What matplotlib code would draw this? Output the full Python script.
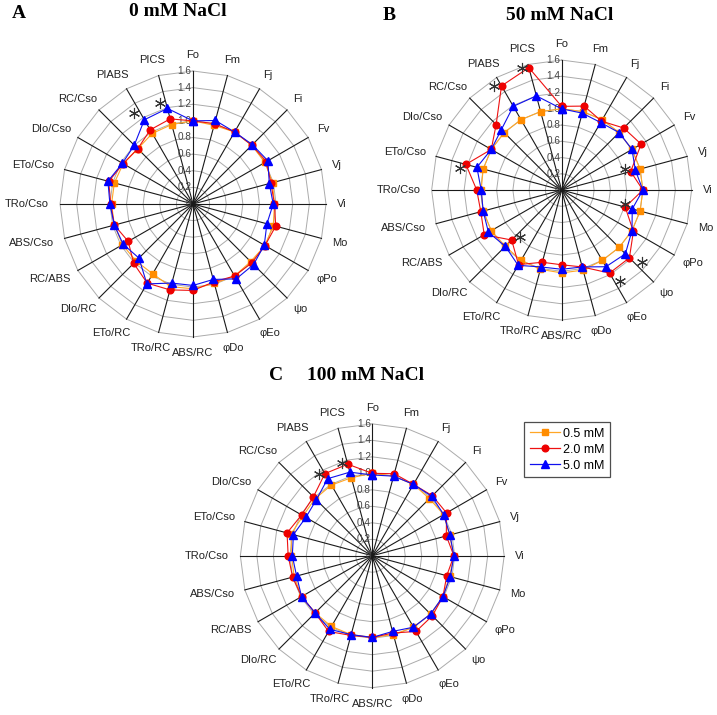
import numpy as np
import matplotlib
matplotlib.use("Agg")
import matplotlib.pyplot as plt
from matplotlib.lines import Line2D

categories = ["Fo", "Fm", "Fj", "Fi", "Fv", "Vj", "Vi", "Mo", "φPo", "ψo", "φEo", "φDo",
              "ABS/RC", "TRo/RC", "ETo/RC", "DIo/RC", "RC/ABS", "ABS/Cso", "TRo/Cso",
              "ETo/Cso", "DIo/Cso", "RC/Cso", "PIABS", "PICS"]
series_names = ["0.5 mM", "2.0 mM", "5.0 mM"]

# Panel A: 0 mM NaCl
a_05 = [1.00, 0.98, 1.00, 1.00, 1.00, 0.99, 0.98, 1.00, 1.00, 0.98, 1.00, 0.99,
        1.02, 1.03, 0.97, 0.97, 0.98, 0.98, 0.98, 0.98, 0.97, 0.94, 0.98, 0.99]
a_20 = [1.00, 1.00, 1.00, 1.00, 1.02, 0.97, 0.98, 1.03, 1.00, 1.00, 1.00, 0.97,
        1.04, 1.07, 1.10, 1.01, 0.90, 0.98, 0.99, 1.05, 0.97, 0.94, 1.03, 1.06]
a_50 = [1.00, 1.04, 1.00, 1.01, 1.04, 0.95, 0.965, 0.92, 0.99, 1.03, 1.04, 0.94,
        0.98, 0.985, 1.11, 0.92, 0.97, 0.98, 1.00, 1.06, 0.98, 1.00, 1.17, 1.19]

# Panel B: 50 mM NaCl
b_05 = [1.00, 1.00, 1.00, 1.00, 1.00, 1.00, 1.00, 1.00, 1.00, 1.00, 1.00, 1.02,
        1.02, 1.01, 1.00, 0.98, 1.00, 1.00, 0.99, 1.00, 1.00, 1.00, 1.00, 1.00]
b_20 = [1.03, 1.07, 0.98, 1.08, 1.13, 0.88, 1.00, 0.81, 1.02, 1.18, 1.18, 0.98,
        0.92, 0.92, 1.06, 0.87, 1.10, 1.03, 1.045, 1.22, 1.00, 1.14, 1.48, 1.56]
b_50 = [1.00, 0.98, 0.96, 1.00, 1.00, 0.94, 1.00, 0.90, 1.00, 1.11, 1.09, 0.98,
        0.975, 0.98, 1.07, 0.98, 1.04, 1.00, 0.99, 1.08, 1.00, 1.05, 1.19, 1.20]

# Panel C: 100 mM NaCl
c_05 = [1.00, 1.00, 1.00, 0.98, 1.00, 0.97, 0.99, 0.97, 0.99, 1.00, 1.00, 0.99,
        0.99, 0.99, 0.99, 0.98, 0.99, 0.98, 0.98, 1.02, 0.97, 0.98, 0.99, 0.98]
c_20 = [1.00, 1.03, 1.00, 1.03, 1.04, 0.93, 0.99, 0.935, 0.99, 1.03, 1.06, 0.97,
        0.99, 1.00, 1.06, 0.98, 0.99, 1.00, 1.02, 1.07, 0.99, 1.01, 1.15, 1.15]
c_50 = [0.98, 1.00, 1.00, 1.02, 1.00, 0.975, 0.99, 0.98, 0.99, 1.00, 1.00, 0.95,
        0.99, 0.99, 1.03, 0.98, 0.99, 0.95, 0.97, 0.99, 0.93, 0.96, 1.08, 1.05]

# significance asterisks: (category, radius)
a_sig = [("PIABS", 1.30), ("PICS", 1.28)]
b_sig = [("PICS", 1.58), ("PIABS", 1.53), ("ETo/Cso", 1.28), ("Vj", 0.82),
         ("Mo", 0.80), ("ψo", 1.33), ("φEo", 1.33), ("DIo/RC", 0.77)]
c_sig = [("PICS", 1.18), ("PIABS", 1.18)]

r_ticks = [0, 0.2, 0.4, 0.6, 0.8, 1.0, 1.2, 1.4, 1.6]
r_tick_labels = ["0", "0.2", "0.4", "0.6", "0.8", "1.0", "1.2", "1.4", "1.6"]

colors = ["#FFA726", "#EE1111", "#1010EE"]
mcolors = ["#FF8C00", "#EE0000", "#0000FF"]
markers = ["s", "o", "^"]
msizes = [4.2, 4.8, 5.8]

plt.rcParams["font.family"] = ["Liberation Sans", "DejaVu Sans"]

fig = plt.figure(figsize=(7.17, 7.15), dpi=100)

n = len(categories)
theta = np.arange(n) * 2 * np.pi / n
theta_closed = np.append(theta, theta[0])


def radar(rect, data, sig):
    ax = fig.add_axes(rect, projection="polar")
    ax.set_theta_zero_location("N")
    ax.set_theta_direction(-1)
    ax.set_ylim(0, 1.6)
    ax.grid(False)
    ax.spines["polar"].set_visible(False)
    ax.set_xticks([])
    ax.set_yticks([])
    ax.patch.set_alpha(0)
    # polygon rings
    for r in r_ticks[1:]:
        ax.plot(theta_closed, [r] * (n + 1), color="#ABABAB", lw=0.7, zorder=1,
                clip_on=False)
    # spokes
    for t in theta:
        ax.plot([t, t], [0, 1.6], color="#1a1a1a", lw=0.8, zorder=2, clip_on=False)
    # radial tick labels
    for r, lab in zip(r_ticks, r_tick_labels):
        ax.annotate(lab, xy=(0, r), xytext=(-1, 0), textcoords="offset points",
                    ha="right", va="center", fontsize=7.2, color="#444444", zorder=3)
    # series
    for vals, c, mc, m, ms in zip(data, colors, mcolors, markers, msizes):
        v = np.append(vals, vals[0])
        ax.plot(theta_closed, v, color=c, lw=0.8, marker=m, ms=ms, mfc=mc, mec=mc,
                zorder=4, clip_on=False)
    # asterisks
    for cat, r in sig:
        t = theta[categories.index(cat)] - np.deg2rad(3)
        ax.plot([t], [r], marker=(6, 2, 0), ms=8, mec="#333333", mew=0.8,
                ls="none", zorder=5, clip_on=False)
    # category labels
    labels = []
    for t, cat in zip(theta, categories):
        s, c = np.sin(t), np.cos(t)
        a = ax.annotate(cat, xy=(t, 1.6), xytext=(0, 0), textcoords="offset points",
                        ha="center", va="center", fontsize=8, color="#222222",
                        annotation_clip=False)
        labels.append((a, s, c))
    return ax, labels


axA, labA = radar([0.0837, 0.5287, 0.371, 0.372], [a_05, a_20, a_50], a_sig)
axB, labB = radar([0.602, 0.5524, 0.3626, 0.3636], [b_05, b_20, b_50], b_sig)
axC, labC = radar([0.3351, 0.0382, 0.3682, 0.369], [c_05, c_20, c_50], c_sig)

# position labels outward depending on their size
fig.canvas.draw()
renderer = fig.canvas.get_renderer()
gap = 8.0  # points
for labs in (labA, labB, labC):
    for a, s, c in labs:
        bb = a.get_window_extent(renderer)
        w = bb.width * 72 / fig.dpi
        h = bb.height * 72 / fig.dpi
        dx = gap * s + 0.5 * w * s
        dy = gap * c + 0.5 * h * c
        a.xyann = (dx, dy)

# titles
tkw = dict(fontfamily="Liberation Serif", fontweight="bold", fontsize=14, va="center")
fig.text(12 / 717, 1 - 13 / 715, "A", ha="left", **tkw)
fig.text(178 / 717, 1 - 12 / 715, "0 mM NaCl", ha="center", **tkw)
fig.text(383 / 717, 1 - 15 / 715, "B", ha="left", **tkw)
fig.text(560 / 717, 1 - 15 / 715, "50 mM NaCl", ha="center", **tkw)
fig.text(269 / 717, 1 - 376 / 715, "C", ha="left", **tkw)
fig.text(366 / 717, 1 - 376 / 715, "100 mM NaCl", ha="center", **tkw)

# legend
handles = [Line2D([], [], color=c, lw=0.9, marker=m, ms=ms, mfc=mc, mec=mc)
           for c, mc, m, ms in zip(colors, mcolors, markers, msizes)]
leg = fig.legend(handles, series_names, loc="upper left",
                 bbox_to_anchor=(524 / 717, 1 - 422 / 715), fontsize=9.0,
                 frameon=True, fancybox=False, edgecolor="#222222",
                 handlelength=2.4, handletextpad=0.25, labelspacing=0.32,
                 borderpad=0.45, borderaxespad=0)
leg.get_frame().set_linewidth(0.9)

fig.savefig("out.png", dpi=100)
